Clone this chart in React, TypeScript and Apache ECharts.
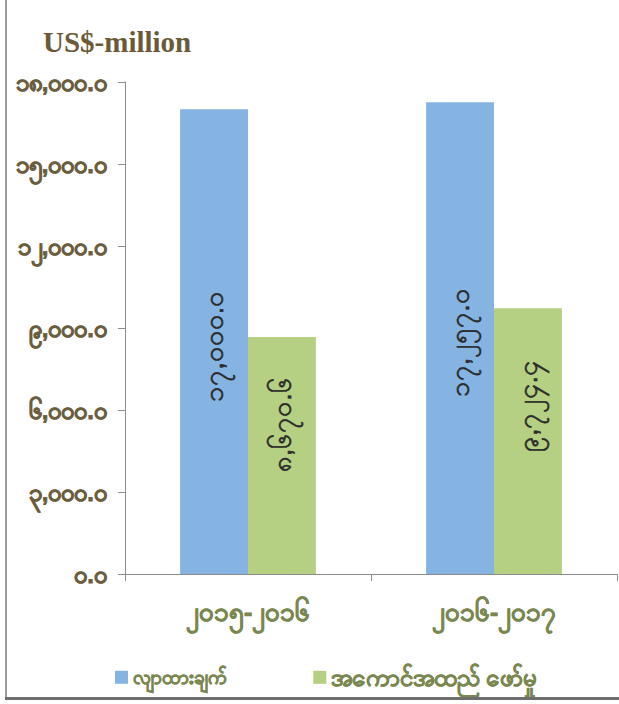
import React, { useEffect, useRef } from "react";
import * as echarts from "echarts";

const categories = ["၂၀၁၅-၂၀၁၆", "၂၀၁၆-၂၀၁၇"];
const seriesNames = ["လျာထားချက်", "အကောင်အထည် ဖော်မှု"];
const targetValues = [17000.0, 17257.0];
const actualValues = [8670.6, 9724.4];
const yTicks = [0, 3000, 6000, 9000, 12000, 15000, 18000];
const unitLabel = "US$-million";

const MY_DIGITS = ["၀", "၁", "၂", "၃", "၄", "၅", "၆", "၇", "၈", "၉"];
function toMyanmar(v: number): string {
  const s = v.toLocaleString("en-US", { minimumFractionDigits: 1, maximumFractionDigits: 1 });
  return s.replace(/[0-9]/g, (d) => MY_DIGITS[Number(d)]);
}

export default function App() {
  const ref = useRef<HTMLDivElement>(null);
  useEffect(() => {
    if (!ref.current) return;
    const chart = echarts.init(ref.current, null, { renderer: "svg" });
    const serif = "'Liberation Serif', 'DejaVu Serif', serif";
    const legendColor = "#7a8750";
    const barLabel = (pos: string[]) => ({
      show: true,
      position: pos,
      align: "center",
      verticalAlign: "middle",
      rotate: 90,
      fontSize: 27,
      color: "#2a2a2a",
      textBorderColor: "#2a2a2a",
      textBorderWidth: 0.6,
      formatter: (p: any) => toMyanmar(p.value),
    });
    chart.setOption({
      animation: false,
      backgroundColor: "#ffffff",
      title: {
        text: unitLabel,
        left: 38,
        top: 22,
        textStyle: { fontFamily: serif, fontWeight: "bold", fontSize: 29, color: "#6b5a38" },
      },
      legend: {
        top: 660,
        left: 110,
        itemWidth: 13,
        itemHeight: 13,
        itemGap: 86,
        icon: "rect",
        textStyle: {
          fontWeight: "bold",
          fontSize: 19,
          color: legendColor,
          textBorderColor: legendColor,
          textBorderWidth: 0.6,
        },
        data: [
          { name: seriesNames[0] },
          { name: seriesNames[1], textStyle: { fontWeight: "bold", fontSize: 24, color: legendColor, textBorderColor: legendColor, textBorderWidth: 0.6 } },
        ],
      },
      grid: { left: 125, right: 2, top: 82, bottom: 130 },
      xAxis: {
        type: "category",
        data: categories,
        axisLine: { lineStyle: { color: "#8c8c8c" } },
        axisTick: { show: true, length: 7, lineStyle: { color: "#8c8c8c" } },
        axisLabel: {
          fontWeight: "bold",
          fontSize: 26,
          color: legendColor,
          textBorderColor: legendColor,
          textBorderWidth: 0.7,
          margin: 25,
        },
      },
      yAxis: {
        type: "value",
        min: 0,
        max: 18000,
        interval: 3000,
        axisLine: { show: true, lineStyle: { color: "#8c8c8c" } },
        axisTick: { show: true, inside: false, length: 7, lineStyle: { color: "#8c8c8c" } },
        splitLine: { show: false },
        axisLabel: {
          fontWeight: "bold",
          fontSize: 24,
          color: "#6b5e3e",
          textBorderColor: "#6b5e3e",
          textBorderWidth: 0.8,
          margin: 18,
          formatter: (v: number) => (yTicks.includes(v) ? toMyanmar(v) : ""),
        },
      },
      series: [
        {
          name: seriesNames[0],
          type: "bar",
          data: targetValues,
          barWidth: "27.6%",
          barGap: "0%",
          itemStyle: { color: "#85b3e2" },
          label: barLabel(["50%", "51%"]),
        },
        {
          name: seriesNames[1],
          type: "bar",
          data: actualValues,
          barWidth: "27.6%",
          itemStyle: { color: "#b5cf83" },
          label: barLabel(["50%", "37%"]),
        },
      ],
    });
    return () => chart.dispose();
  }, []);
  return (
    <div style={{ width: 619, height: 704, position: "absolute", left: 0, top: 0 }}>
      <div ref={ref} style={{ width: 619, height: 704 }} />
      <div style={{ position: "absolute", left: 5, top: 0, width: 2, height: 698, background: "#9a9a9a" }} />
      <div style={{ position: "absolute", left: 5, top: 697, width: 614, height: 3, background: "#6e6e6e" }} />
    </div>
  );
}
